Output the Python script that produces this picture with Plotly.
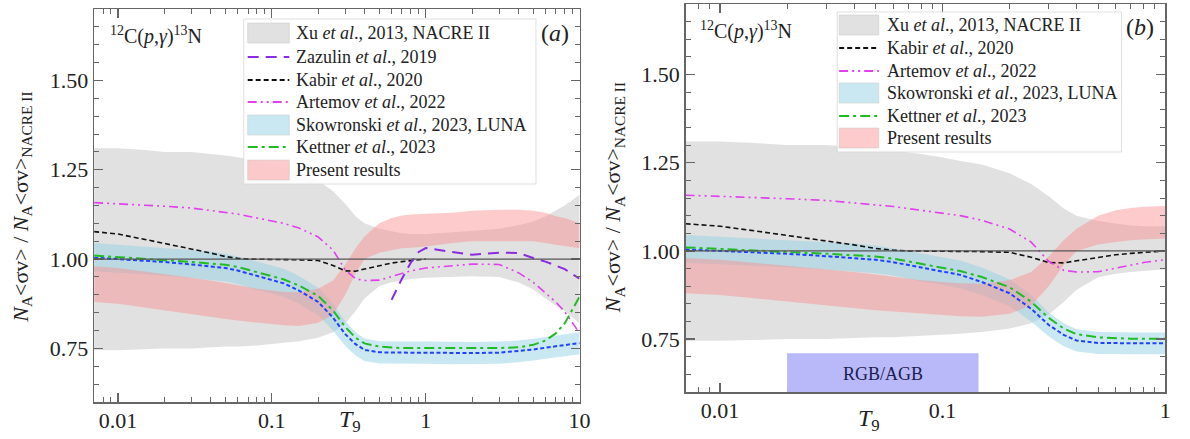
import math
import plotly.graph_objects as go

# ---------------- data ----------------
T9 = [0.007, 0.01, 0.015, 0.02, 0.03, 0.04, 0.05, 0.06, 0.07, 0.08, 0.1, 0.12, 0.15, 0.2,
      0.25, 0.3, 0.35, 0.4, 0.5, 0.6, 0.7, 0.8, 1.0, 1.5, 2, 3, 4, 5, 6, 7, 8, 10]

nacre_hi = [1.31, 1.31, 1.305, 1.30, 1.30, 1.295, 1.29, 1.285, 1.28, 1.275, 1.265, 1.255, 1.245, 1.22,
            1.19, 1.155, 1.12, 1.10, 1.085, 1.078, 1.072, 1.07, 1.07, 1.075, 1.08, 1.085, 1.095, 1.105,
            1.12, 1.135, 1.15, 1.18]
nacre_lo = [0.745, 0.745, 0.748, 0.75, 0.75, 0.752, 0.755, 0.755, 0.757, 0.758, 0.762, 0.765, 0.77, 0.78,
            0.795, 0.82, 0.855, 0.89, 0.925, 0.935, 0.94, 0.944, 0.948, 0.951, 0.952, 0.95, 0.935, 0.915,
            0.89, 0.87, 0.855, 0.82]

present_hi = [0.98, 0.975, 0.965, 0.958, 0.948, 0.94, 0.933, 0.927, 0.92, 0.917, 0.912, 0.908, 0.907, 0.917,
              0.94, 0.985, 1.03, 1.063, 1.10, 1.115, 1.122, 1.125, 1.127, 1.13, 1.135, 1.138, 1.138, 1.135,
              1.13, 1.12, 1.115, 1.10]
present_lo = [0.88, 0.875, 0.865, 0.857, 0.845, 0.838, 0.832, 0.828, 0.825, 0.822, 0.818, 0.815, 0.813, 0.822,
              0.845, 0.9, 0.96, 1.0, 1.018, 1.025, 1.03, 1.032, 1.035, 1.045, 1.05, 1.05, 1.05, 1.05,
              1.045, 1.04, 1.035, 1.03]

luna_mid = [1.004, 1.0, 0.996, 0.992, 0.985, 0.98, 0.975, 0.968, 0.96, 0.952, 0.942, 0.932, 0.912, 0.88,
            0.836, 0.79, 0.762, 0.746, 0.739, 0.738, 0.738, 0.738, 0.738, 0.737, 0.737, 0.738, 0.742, 0.747,
            0.752, 0.756, 0.76, 0.765]
luna_hi = [1.045, 1.04, 1.036, 1.032, 1.026, 1.021, 1.015, 1.008, 1.0, 0.993, 0.983, 0.973, 0.953, 0.92,
           0.875, 0.825, 0.795, 0.778, 0.77, 0.769, 0.769, 0.769, 0.769, 0.768, 0.768, 0.769, 0.772, 0.777,
           0.782, 0.786, 0.79, 0.795]
luna_lo = [0.966, 0.962, 0.958, 0.954, 0.947, 0.942, 0.937, 0.93, 0.922, 0.914, 0.904, 0.894, 0.875, 0.843,
           0.8, 0.757, 0.73, 0.715, 0.708, 0.707, 0.707, 0.707, 0.707, 0.706, 0.706, 0.707, 0.711, 0.716,
           0.721, 0.725, 0.729, 0.734]

kettner = [1.01, 1.006, 1.002, 0.997, 0.992, 0.988, 0.984, 0.978, 0.97, 0.962, 0.952, 0.943, 0.926, 0.897,
           0.856, 0.81, 0.78, 0.764, 0.755, 0.752, 0.751, 0.751, 0.751, 0.75, 0.75, 0.751, 0.753, 0.76,
           0.772, 0.792, 0.82, 0.895]

artemov = [1.158, 1.155, 1.151, 1.148, 1.143, 1.136, 1.131, 1.126, 1.12, 1.115, 1.108, 1.10, 1.087, 1.062,
           1.025, 0.97, 0.945, 0.94, 0.941, 0.951, 0.96, 0.967, 0.975, 0.982, 0.986, 0.985, 0.962, 0.935,
           0.905, 0.88, 0.853, 0.793]

kabir_t = T9[:23]
kabir = [1.077, 1.07, 1.055, 1.044, 1.03, 1.017, 1.007, 1.002, 1.0, 1.0, 0.998, 0.998, 0.998, 0.996,
         0.982, 0.967, 0.966, 0.972, 0.982, 0.989, 0.993, 0.996, 1.0]

zazulin_t = [0.6, 0.7, 0.8, 0.9, 1.0, 1.5, 2, 3, 4, 5, 6, 7, 8, 10]
zazulin = [0.886, 0.945, 0.99, 1.02, 1.031, 1.02, 1.012, 1.018, 1.017, 1.003, 0.993, 0.982, 0.972, 0.945]

rgb_agb_t = [0.02, 0.145]
rgb_agb_v = [0.6, 0.71]

x_ticks = [0.01, 0.1, 1, 10]
x_tick_text = ["0.01", "0.1", "1", "10"]
y_ticks = [0.75, 1.0, 1.25, 1.5]
y_tick_text = ["0.75", "1.00", "1.25", "1.50"]

# ---------------- styles ----------------
W, H = 1190, 439
SERIF = "Liberation Serif, Times New Roman, Times, serif"
AX = "#666666"
TXT = "#222222"
GRAY_FILL = "rgba(205,205,205,0.6)"
BLUE_FILL = "rgba(150,210,230,0.5)"
RED_FILL = "rgba(250,140,140,0.45)"
C_ZAZ = "#8a2be2"
C_KAB = "#111111"
C_ART = "#e040ee"
C_LUNA = "#2040ff"
C_KET = "#22bb22"
D_ZAZ = "11px,7px"
D_KAB = "5px,3px"
D_ART = "9px,4px,2px,4px,2px,4px"
D_LUNA = "4px,2.5px"
D_KET = "10px,4px,3px,4px"


def px(x):
    return x / W


def py(y):
    return 1 - y / H


fig = go.Figure()


def band(xa, ya, lo, hi, color):
    fig.add_trace(go.Scatter(x=T9 + T9[::-1], y=hi + lo[::-1], fill="toself", fillcolor=color,
                             line=dict(width=0), mode="lines", xaxis=xa, yaxis=ya,
                             hoverinfo="skip", showlegend=False))


def line(xa, ya, x, y, color, dash, width=1.8):
    fig.add_trace(go.Scatter(x=x, y=y, mode="lines", line=dict(color=color, dash=dash, width=width),
                             xaxis=xa, yaxis=ya, showlegend=False))


for xa, ya, with_zaz in [("x", "y", True), ("x2", "y2", False)]:
    band(xa, ya, nacre_lo, nacre_hi, GRAY_FILL)
    band(xa, ya, luna_lo, luna_hi, BLUE_FILL)
    band(xa, ya, present_lo, present_hi, RED_FILL)
    line(xa, ya, kabir_t, kabir, C_KAB, D_KAB, 1.6)
    line(xa, ya, T9, artemov, C_ART, D_ART, 1.6)
    if with_zaz:
        line(xa, ya, zazulin_t, zazulin, C_ZAZ, D_ZAZ, 2)
    line(xa, ya, T9, luna_mid, C_LUNA, D_LUNA, 2)
    line(xa, ya, T9, kettner, C_KET, D_KET, 2)

minor_x = [m * 10 ** e for e in range(-3, 2) for m in range(2, 10)]
tickfont = dict(family=SERIF, size=22, color=TXT)


def xaxis(domain, rng, anchor):
    return dict(type="log", domain=domain, range=rng, anchor=anchor,
                tickvals=x_ticks, ticktext=x_tick_text, ticks="inside", ticklen=9, tickwidth=1.2,
                tickcolor=AX, minor=dict(tickvals=minor_x, ticks="inside", ticklen=5, tickwidth=1,
                                         tickcolor=AX),
                showline=True, linecolor=AX, linewidth=1.5, mirror="allticks",
                showgrid=False, zeroline=False, tickfont=tickfont, ticklabelstandoff=-2)


def yaxis(domain, anchor):
    return dict(domain=domain, range=[0.6, 1.7], anchor=anchor,
                tickvals=y_ticks, ticktext=y_tick_text, ticks="inside", ticklen=9, tickwidth=1.2,
                tickcolor=AX, minor=dict(dtick=0.05, tick0=0, ticks="inside", ticklen=5, tickwidth=1,
                                         tickcolor=AX),
                showline=True, linecolor=AX, linewidth=1.5, mirror="allticks",
                showgrid=False, zeroline=False, tickfont=tickfont)


lo_log = math.log10(0.007)
fig.update_layout(
    width=W, height=H, margin=dict(l=0, r=0, t=0, b=0),
    paper_bgcolor="white", plot_bgcolor="white", showlegend=False,
    font=dict(family=SERIF, color=TXT),
    xaxis=xaxis([px(95), px(585)], [lo_log, 1], "y"),
    yaxis=yaxis([py(402), py(9)], "x"),
    xaxis2=xaxis([px(692), px(1176)], [lo_log, 0], "y2"),
    yaxis2=yaxis([py(392), py(4)], "x2"),
)

# reference line at unity
for xr, yr in [("x domain", "y"), ("x2 domain", "y2")]:
    fig.add_shape(type="line", xref=xr, yref=yr, x0=0, x1=1, y0=1, y1=1,
                  line=dict(color="#555555", width=1.2), layer="above")

# RGB/AGB box in panel b
fig.add_shape(type="rect", xref="x2", yref="y2", x0=rgb_agb_t[0], x1=rgb_agb_t[1],
              y0=rgb_agb_v[0], y1=rgb_agb_v[1], fillcolor="#b9b9fa", line=dict(width=0), layer="above")
fig.add_annotation(xref="x2", yref="y2", x=math.log10((rgb_agb_t[0] * rgb_agb_t[1]) ** 0.5),
                   y=(rgb_agb_v[0] + rgb_agb_v[1]) / 2 - 0.005, text="RGB/AGB", showarrow=False,
                   xanchor="center", yanchor="middle",
                   font=dict(family=SERIF, size=18, color="#1c1c50"))

ann = dict(showarrow=False, xref="paper", yref="paper", yanchor="middle")
ytitle = "<i>N</i><sub>A</sub>&lt;σv&gt; / <i>N</i><sub>A</sub>&lt;σv&gt;<sub>NACRE II</sub>"
for x, y in [(22, 207), (620, 198)]:
    fig.add_annotation(x=px(x), y=py(y), text=ytitle, textangle=-90, xanchor="center",
                       font=dict(family=SERIF, size=22, color=TXT), **ann)
for x, y in [(353, 421), (877, 420)]:
    fig.add_annotation(x=px(x), y=py(y), text="<i>T</i><sub>9</sub>", xanchor="center",
                       font=dict(family=SERIF, size=24, color=TXT), **ann)
fig.add_annotation(x=px(560), y=py(33), text="(<i>a</i>)", xanchor="center",
                   font=dict(family=SERIF, size=24, color=TXT), **ann)
fig.add_annotation(x=px(1151), y=py(27), text="(<i>b</i>)", xanchor="center",
                   font=dict(family=SERIF, size=24, color=TXT), **ann)
reac = "<sup>12</sup>C(<i>p</i>,<i>γ</i>)<sup>13</sup>N"
for x, y in [(109, 35), (705, 30)]:
    fig.add_annotation(x=px(x), y=py(y), text=reac, xanchor="left",
                       font=dict(family=SERIF, size=20, color=TXT), **ann)

# ---------------- manual legends ----------------
leg_a = [("box", GRAY_FILL, None, "Xu <i>et al</i>., 2013, NACRE II", 33),
         ("line", C_ZAZ, D_ZAZ, "Zazulin <i>et al</i>., 2019", 57),
         ("line", C_KAB, D_KAB, "Kabir <i>et al</i>., 2020", 80),
         ("line", C_ART, D_ART, "Artemov <i>et al</i>., 2022", 102),
         ("box", BLUE_FILL, None, "Skowronski <i>et al</i>., 2023, LUNA", 125),
         ("line", C_KET, D_KET, "Kettner <i>et al</i>., 2023", 147),
         ("box", RED_FILL, None, "Present results", 170)]
leg_b = [("box", GRAY_FILL, None, "Xu <i>et al</i>., 2013, NACRE II", 25),
         ("line", C_KAB, D_KAB, "Kabir <i>et al</i>., 2020", 48),
         ("line", C_ART, D_ART, "Artemov <i>et al</i>., 2022", 71),
         ("box", BLUE_FILL, None, "Skowronski <i>et al</i>., 2023, LUNA", 93),
         ("line", C_KET, D_KET, "Kettner <i>et al</i>., 2023", 116),
         ("box", RED_FILL, None, "Present results", 138)]

for items, x0, x1, tx, bg in [(leg_a, 250, 292, 297, (246, 19, 541, 184)),
                              (leg_b, 847, 887, 893, (845, 12, 1132, 152))]:
    fig.add_shape(type="rect", xref="paper", yref="paper", x0=px(bg[0]), x1=px(bg[2]),
                  y0=py(bg[3]), y1=py(bg[1]), fillcolor="rgba(255,255,255,0.85)",
                  line=dict(color="rgba(215,215,215,0.8)", width=1), layer="above")
    for kind, col, dash, label, yc in items:
        if kind == "box":
            fig.add_shape(type="rect", xref="paper", yref="paper", x0=px(x0), x1=px(x1),
                          y0=py(yc + 10), y1=py(yc - 10), fillcolor=col,
                          line=dict(color="rgba(200,200,200,0.5)", width=1), layer="above")
        else:
            fig.add_shape(type="line", xref="paper", yref="paper", x0=px(x0), x1=px(x1),
                          y0=py(yc), y1=py(yc), line=dict(color=col, dash=dash, width=2),
                          layer="above")
        fig.add_annotation(x=px(tx), y=py(yc), text=label, xanchor="left",
                           font=dict(family=SERIF, size=18, color=TXT), **ann)

fig.write_html("out.html", config={"displayModeBar": False, "staticPlot": True},
               post_script="document.body.style.margin='0';document.body.style.overflow='hidden';")
